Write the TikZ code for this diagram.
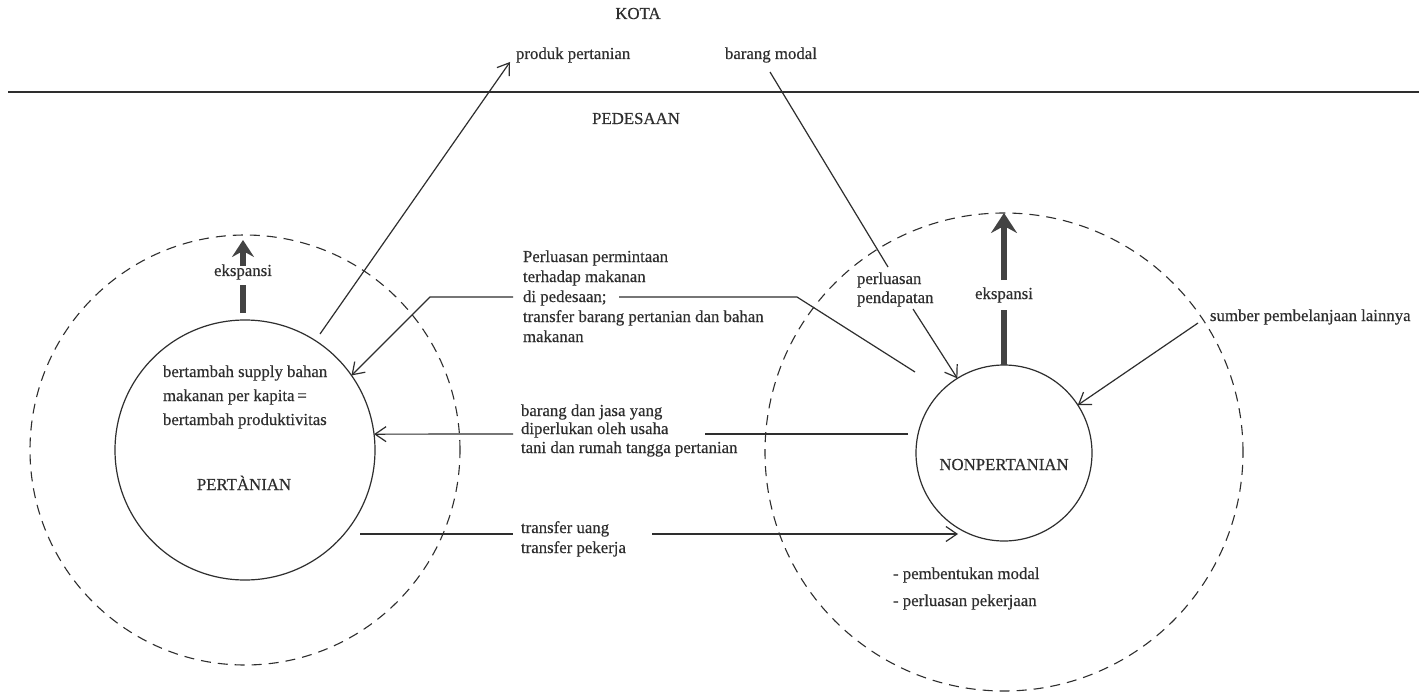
\documentclass[tikz,border=0pt]{standalone}
\usepackage{fontspec}
\setmainfont{Liberation Serif}[FakeBold=0.35]
\usetikzlibrary{arrows.meta,calc}
\definecolor{ink}{HTML}{2E2E2E}
\begin{document}
\begin{tikzpicture}[x=1pt,y=-1pt,
  every node/.style={inner sep=0pt, outer sep=0pt, text=ink},
  lbl/.style={font=\fontsize{16.8}{20}\selectfont, anchor=base west},
  lblc/.style={font=\fontsize{16.8}{20}\selectfont, anchor=base},
  conn/.style={draw=ink, line width=1.2pt},
  arr/.style={conn, -{Straight Barb[length=11pt,width=15pt]}},
  ring/.style={circle, draw=ink, line width=1.2pt},
  dring/.style={circle, draw=ink, line width=1.1pt, dash pattern=on 10pt off 7pt},
  expbar/.style={draw=ink!90, line width=6pt},
  exparrowL/.style={draw=ink!90, line width=5.5pt, -{Stealth[length=17pt,width=22pt,inset=6pt]}},
  exparrowR/.style={draw=ink!90, line width=6pt, -{Stealth[length=20pt,width=26pt,inset=7pt]}}]

\useasboundingbox (0,0) rectangle (1419,695);
\fill[white] (0,0) rectangle (1419,695);

% circles
\node[dring, minimum size=430pt] (pertout) at (245,450) {};
\node[ring, minimum size=260pt] (pert) at (245,450) {};
\node[dring, minimum size=478pt] (npout) at (1004,452) {};
\node[ring, minimum size=176pt] (np) at (1004,453) {};

% boundary line
\coordinate (hl) at (8,92);
\coordinate (hr) at (1419,92);
\draw[ink, line width=1.5pt] (hl) -- (hr);

% top labels
\node[lblc] (kota) at (638,19) {KOTA};
\node[lbl] (produk) at (516,59) {produk pertanian};
\node[lbl] (modal) at (725,59) {barang modal};
\node[lblc] (desa) at (636,124) {PEDESAAN};

% left circle texts
\node[lbl] (t1) at (163,377) {bertambah supply bahan};
\node[lbl] (t2) at (163,401) {makanan per kapita\,=};
\node[lbl] (t3) at (163,425) {bertambah produktivitas};
\node[lblc] (pertlbl) at (244,490) {PERTÀNIAN};

% right circle texts
\node[lblc] (nplbl) at (1004,470) {NONPERTANIAN};
\node[lbl] (pm1) at (893,579) {-\ pembentukan modal};
\node[lbl] (pm2) at (893,606) {-\ perluasan pekerjaan};

% ekspansi
\node[lblc] (eksL) at (243,276) {ekspansi};
\node[lblc] (eksR) at (1004,299) {ekspansi};
\coordinate (eL1) at (243,313);
\coordinate (eL2) at (243,285);
\coordinate (eL3) at (243,266);
\coordinate (eL4) at (243,240);
\draw[expbar] (eL1) -- (eL2);
\draw[exparrowL] (eL3) -- (eL4);
\coordinate (eR1) at (1004,365);
\coordinate (eR2) at (1004,310);
\coordinate (eR3) at (1004,280);
\coordinate (eR4) at (1004,213);
\draw[expbar] (eR1) -- (eR2);
\draw[exparrowR] (eR3) -- (eR4);

% middle labels
\node[lbl] (p1) at (523,262) {Perluasan permintaan};
\node[lbl] (p2) at (523,282) {terhadap makanan};
\node[lbl] (p3) at (523,302) {di pedesaan;};
\node[lbl] (p4) at (523,322) {transfer barang pertanian dan bahan};
\node[lbl] (p5) at (523,342) {makanan};

\node[lbl] (b1) at (521,416) {barang dan jasa yang};
\node[lbl] (b2) at (521,434) {diperlukan oleh usaha};
\node[lbl] (b3) at (521,453) {tani dan rumah tangga pertanian};

\node[lbl] (u1) at (521,533) {transfer uang};
\node[lbl] (u2) at (521,553) {transfer pekerja};

\node[lbl] (pd1) at (857,284) {perluasan};
\node[lbl] (pd2) at (857,303) {pendapatan};

\node[lbl] (sumber) at (1210,321) {sumber pembelanjaan lainnya};

% connectors
\coordinate (prodS) at (320,334);
\coordinate (prodE) at (510,62);
\draw[arr] (prodS) -- (prodE);

\coordinate (modS) at (770,72);
\coordinate (modE) at (888,267);
\draw[conn] (modS) -- (modE);

\coordinate (pdS) at (913,309);
\draw[arr] (pdS) -- (np.122);

\coordinate (suS) at (1198,323);
\draw[arr] (suS) -- (np.33);

\coordinate (pa) at (915,372);
\coordinate (pb) at (797,297);
\coordinate (pc) at (619,297);
\coordinate (pd) at (513,297);
\coordinate (pe) at (430,297);
\draw[conn] (pa) -- (pb) -- (pc);
\draw[arr] (pd) -- (pe) -- (pert.35);

\coordinate (ba) at (908,434);
\coordinate (bb) at (705,434);
\coordinate (bc) at (513,434);
\draw[conn] (ba) -- (bb);
\draw[arr] (bc) -- (pert.7);

\coordinate (ua) at (360,534);
\coordinate (ub) at (513,534);
\coordinate (uc) at (652,534);
\coordinate (ud) at (958,534);
\draw[conn] (ua) -- (ub);
\draw[arr] (uc) -- (ud);
\end{tikzpicture}
\end{document}
